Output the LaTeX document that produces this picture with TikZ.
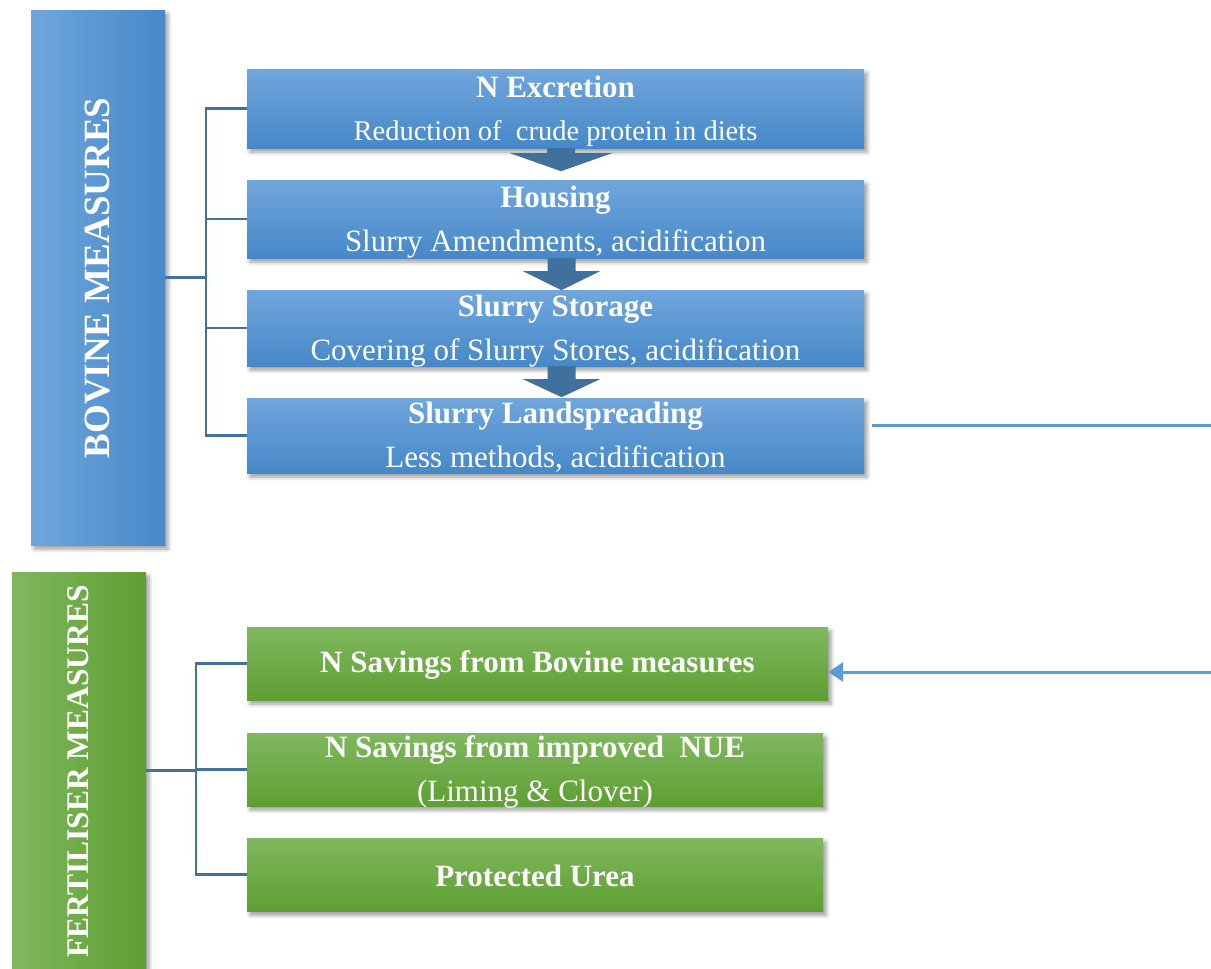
\documentclass[tikz,border=0pt]{standalone}
\usepackage{fontspec}
\setmainfont{Liberation Serif}
\usetikzlibrary{shadows.blur,arrows.meta,calc}
\definecolor{bluelight}{RGB}{112,166,220}
\definecolor{bluedark}{RGB}{70,136,200}
\definecolor{greenlight}{RGB}{128,184,94}
\definecolor{greendark}{RGB}{94,159,50}
\definecolor{linec}{RGB}{65,113,156}
\definecolor{arrowc}{RGB}{64,112,158}
\definecolor{longc}{RGB}{91,155,213}
\tikzset{
  box/.style={rectangle, inner sep=0pt,
    blur shadow={shadow xshift=3pt, shadow yshift=-4pt, shadow blur radius=4pt, shadow opacity=40}},
  bluebox/.style={box, top color=bluelight, bottom color=bluedark},
  greenbox/.style={box, top color=greenlight, bottom color=greendark},
  boxtext/.style={inner sep=0pt, align=center, text=white, font=\fontsize{31}{37}\selectfont},
  conn/.style={draw=linec, line width=2.5pt},
  longline/.style={draw=longc, line width=3pt},
  blockarrow/.style={fill=arrowc},
  vtitle/.style={rotate=90, text=white, inner sep=0pt, font=\bfseries},
}
\begin{document}
\begin{tikzpicture}[x=1pt,y=-1pt]
\useasboundingbox (0,0) rectangle (1211,969);
% tall side boxes
\node[box, left color=bluelight, right color=bluedark, minimum width=134, minimum height=535] (bov) at (98,277.5) {};
\node[vtitle, font=\fontsize{37}{40}\selectfont\bfseries] (bovtxt) at (98,278) {BOVINE MEASURES};
\node[box, left color=greenlight, right color=greendark, minimum width=134, minimum height=402] (fer) at (79,773) {};
\node[vtitle, font=\fontsize{31.5}{34}\selectfont\bfseries] (fertxt) at (78,771.5) {FERTILISER MEASURES};
% bovine boxes
\node[bluebox, minimum width=617, minimum height=79] (nex) at (555.5,108.5) {};
\node[boxtext] (nexT) at ([yshift=-3pt]nex.center)
  {{\bfseries N Excretion}\\[6pt]{\fontsize{28.5}{34}\selectfont Reduction of\ \ crude protein in diets}};
\node[bluebox, minimum width=617, minimum height=78] (hou) at (555.5,219) {};
\node[boxtext] (houT) at ([yshift=-3pt]hou.center)
  {{\bfseries Housing}\\[7pt]Slurry Amendments, acidification};
\node[bluebox, minimum width=617, minimum height=76] (sto) at (555.5,328) {};
\node[boxtext] (stoT) at ([yshift=-3pt]sto.center)
  {{\bfseries Slurry Storage}\\[7pt]Covering of Slurry Stores, acidification};
\node[bluebox, minimum width=617, minimum height=75] (lan) at (555.5,435.5) {};
\node[boxtext] (lanT) at ([yshift=-2pt]lan.center)
  {{\bfseries Slurry Landspreading}\\[7pt]Less methods, acidification};
% fertiliser boxes
\node[greenbox, minimum width=581, minimum height=73] (g1) at (537.5,663.5) {};
\node[boxtext] (g1T) at ([yshift=-2pt]g1.center) {\bfseries N Savings from Bovine measures};
\node[greenbox, minimum width=576, minimum height=73] (g2) at (535,769.5) {};
\node[boxtext] (g2T) at ([yshift=-2pt]g2.center)
  {{\bfseries N Savings from improved\ \ NUE}\\[7pt](Liming \& Clover)};
\node[greenbox, minimum width=576, minimum height=73] (g3) at (535,874.5) {};
\node[boxtext] (g3T) at ([yshift=-1pt]g3.center) {\bfseries Protected Urea};
% block arrows
\path (nex.south) ++(5.5,0) coordinate (a1);
\path (hou.south) ++(6,0) coordinate (a2);
\path (sto.south) ++(6,0) coordinate (a3);
\fill[blockarrow] (a1) ++(-14,0) -- ++(28,0) -- ++(0,5) -- ++(37,0) -- ++(-51,18) -- ++(-51,-18) -- ++(37,0) -- cycle;
\fill[blockarrow] (a2) ++(-14,0) -- ++(28,0) -- ++(0,13) -- ++(24.5,0) -- ++(-38.5,19) -- ++(-38.5,-19) -- ++(24.5,0) -- cycle;
\fill[blockarrow] (a3) ++(-14,0) -- ++(28,0) -- ++(0,13) -- ++(24.5,0) -- ++(-38.5,18) -- ++(-38.5,-18) -- ++(24.5,0) -- cycle;
% bovine connectors
\coordinate (bj) at (206,277.5);
\draw[conn] (bov.east) -- (bj);
\draw[conn] (nex.west) -| (bj) |- (lan.west);
\draw[conn] (bj |- hou.west) -- (hou.west);
\draw[conn] (bj |- sto.west) -- (sto.west);
% fertiliser connectors
\coordinate (fj) at (196,770.5);
\draw[conn] (fer.east |- fj) -- (fj);
\draw[conn] (g1.west) -| (fj) |- (g3.west);
\draw[conn] (fj |- g2.west) -- (g2.west);
% long connectors
\coordinate (r1) at (1211,425);
\coordinate (r2) at (1211,672);
\path ([xshift=8pt]lan.east) coordinate (le);
\draw[longline] (le |- r1) -- (r1);
\draw[longline, -{Triangle[length=15pt,width=19pt]}] (r2) -- (g1.east |- r2);
\end{tikzpicture}
\end{document}
